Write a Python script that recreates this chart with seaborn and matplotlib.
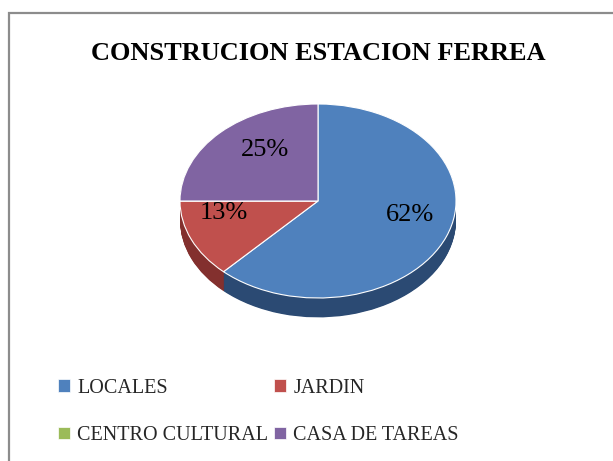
import matplotlib
matplotlib.use('Agg')
import matplotlib.pyplot as plt
import matplotlib.patches as mpatches
import numpy as np
import seaborn as sns

categorias = ['LOCALES', 'JARDIN', 'CENTRO CULTURAL', 'CASA DE TAREAS']
valores = [62, 13, 0, 25]
colores = ['#4F81BD', '#C0504D', '#9BBB59', '#8064A2']
colores_lado = ['#2B4A73', '#83302E', '#5E7A30', '#4E3A6A']
# distancia de cada etiqueta al centro (horizontal, vertical)
dist_x = [0.72, 0.74, 0.6, 0.54]
dist_y = [0.4, 0.31, 0.6, 0.74]

sns.set_theme(style='white')
plt.rcParams['font.family'] = ['Liberation Serif', 'DejaVu Serif']

W, H = 613, 461
fig = plt.figure(figsize=(W / 100, H / 100), dpi=100)

# borde del area del grafico (recortado a la derecha y abajo)
fig.patches.append(mpatches.Rectangle((9 / W, -0.1), 1.2, 1 - 13 / H + 0.1,
                                      transform=fig.transFigure, fill=False,
                                      edgecolor='#8C8C8C', linewidth=1.6))

fig.text(318 / W, 1 - 54 / H, 'CONSTRUCION ESTACION FERREA', ha='center', va='center',
         fontsize=19, fontweight='bold', color='black')

# ejes de la torta: 1 unidad = 138 px en x, 97 px en y
cx, cy, rx, ry = 318, 201, 138, 97
x0, x1, y0, y1 = 170, 470, 90, 340
ax = fig.add_axes([x0 / W, 1 - y1 / H, (x1 - x0) / W, (y1 - y0) / H])

profundidad = 0.2
for d in np.linspace(profundidad, 0.005, 30):
    ax.pie(valores, colors=colores_lado, startangle=90, counterclock=False,
           center=(0, -d), radius=1, wedgeprops=dict(linewidth=0))

wedges, textos, autotextos = ax.pie(
    valores, colors=colores, startangle=90, counterclock=False, radius=1,
    autopct=lambda p: f'{p:.0f}%' if p > 0 else '', pctdistance=0.65,
    wedgeprops=dict(linewidth=0.8, edgecolor='white'),
    textprops=dict(fontsize=19, color='black'))

for w, t, rx_, ry_ in zip(wedges, autotextos, dist_x, dist_y):
    ang = np.deg2rad((w.theta1 + w.theta2) / 2)
    t.set_position((rx_ * np.cos(ang), ry_ * np.sin(ang)))

ax.set_aspect('auto')
ax.set_xlim((x0 - cx) / rx, (x1 - cx) / rx)
ax.set_ylim(-(y1 - cy) / ry, (cy - y0) / ry)
ax.axis('off')

# leyenda en filas: matplotlib llena por columnas, asi que se reordena
orden = [0, 2, 1, 3]
handles = [mpatches.Patch(facecolor=colores[i], edgecolor='white', linewidth=0.5) for i in orden]
fig.legend(handles, [categorias[i] for i in orden], ncol=2, frameon=False, fontsize=14.5,
           loc='center left', bbox_to_anchor=(40 / W, 1 - 412 / H),
           handlelength=0.6, handleheight=0.6, handletextpad=0.35,
           columnspacing=0.3, labelspacing=1.4)

fig.savefig('out.png', dpi=100, facecolor='white')
